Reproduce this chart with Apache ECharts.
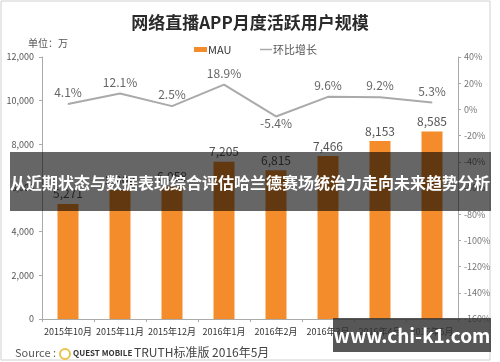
<!DOCTYPE html>
<html><head><meta charset="utf-8">
<script src="https://cdn.jsdelivr.net/npm/echarts@6/dist/echarts.min.js"></script>
<style>html,body{margin:0;padding:0;background:#fff}#c{width:500px;height:362px}</style>
</head><body><div id="c"></div>
<script>
const categories = ['2015年10月','2015年11月','2015年12月','2016年1月','2016年2月','2016年3月','2016年4月','2016年5月'];
const mau = [5271, 5909, 6058, 7205, 6815, 7466, 8153, 8585];
const growth = [4.1, 12.1, 2.5, 18.9, -5.4, 9.6, 9.2, 5.3];
const leftTicks = {min: 0, max: 12000, interval: 2000};
const rightTicks = {min: -160, max: 40, interval: 20};

const FONT = '"Noto Sans CJK SC", "Noto Sans", sans-serif';
const chart = echarts.init(document.getElementById('c'), null, {renderer: 'canvas'});
const fmtNum = v => String(v).replace(/\B(?=(\d{3})+(?!\d))/g, ',');

chart.setOption({
  animation: false,
  backgroundColor: '#fff',
  textStyle: {fontFamily: FONT},
  title: {
    text: '网络直播APP月度活跃用户规模', left: 'center', top: 9,
    textStyle: {fontSize: 17, fontWeight: 'bold', color: '#2a2a2a', fontFamily: FONT}
  },
  legend: [
    {data: ['MAU'], left: 189, top: 39, icon: 'rect', itemWidth: 13, itemHeight: 5, itemGap: 2,
     textStyle: {fontSize: 11, color: '#333', padding: [0, 0, 0, -4]}},
    {data: ['环比增长'], left: 255, top: 39, icon: 'rect', itemWidth: 12, itemHeight: 1.5,
     textStyle: {fontSize: 11, color: '#555', padding: [0, 0, 0, -4]}}
  ],
  grid: {left: 42, right: 42, top: 57, bottom: 43, containLabel: false},
  xAxis: {
    type: 'category', data: categories,
    axisLine: {lineStyle: {color: '#aaa'}},
    axisTick: {show: true, length: 3, lineStyle: {color: '#aaa'}},
    axisLabel: {fontSize: 9, color: '#333', margin: 8, interval: 0, hideOverlap: false}
  },
  yAxis: [
    {type: 'value', min: leftTicks.min, max: leftTicks.max, interval: leftTicks.interval,
     splitLine: {show: false},
     axisLine: {show: true, lineStyle: {color: '#aaa'}},
     axisTick: {show: true, length: 3, lineStyle: {color: '#aaa'}},
     axisLabel: {fontSize: 9, color: '#555', margin: 8, formatter: v => fmtNum(v)}},
    {type: 'value', min: rightTicks.min, max: rightTicks.max, interval: rightTicks.interval,
     splitLine: {show: false},
     axisLine: {show: true, lineStyle: {color: '#aaa'}},
     axisTick: {show: true, length: 3, lineStyle: {color: '#aaa'}},
     axisLabel: {fontSize: 9, color: '#777', margin: 6, formatter: v => v + '%'}}
  ],
  series: [
    {name: 'MAU', type: 'bar', data: mau, barWidth: 21, yAxisIndex: 0,
     itemStyle: {color: '#f48c2c'},
     label: {show: true, position: 'top', distance: 4, fontSize: 12, color: '#555',
             formatter: p => fmtNum(p.value)}},
    {name: '环比增长', type: 'line', yAxisIndex: 1, showSymbol: true, symbol: 'circle', symbolSize: 1,
     data: growth.map(v => v < 0 ? {value: v, label: {position: 'bottom', distance: 0}} : v),
     lineStyle: {color: '#aaa', width: 2}, itemStyle: {color: '#aaa'},
     label: {show: true, position: 'top', distance: 5, fontSize: 12, color: '#666',
             formatter: p => p.value + '%'}}
  ],
  graphic: [
    {type: 'rect', shape: {x: 1, y: 1, width: 489, height: 359}, style: {fill: 'none', stroke: '#d0d0d0', lineWidth: 1}, z: 0},
    {type: 'text', left: 28, top: 38, style: {text: '单位：万', fontSize: 10, fill: '#555', fontFamily: FONT}},
    {type: 'text', left: 15, top: 347, style: {text: 'Source :', fontSize: 11, fill: '#555', fontFamily: FONT}},
    {type: 'circle', shape: {cx: 65, cy: 354, r: 5}, style: {fill: 'none', stroke: '#e9c34a', lineWidth: 2}},
    {type: 'text', left: 73, top: 349, style: {text: 'QUEST MOBILE', fontSize: 8, fontWeight: 'bold', fill: '#333', fontFamily: FONT}},
    {type: 'text', left: 134, top: 346, style: {text: 'TRUTH标准版 2016年5月', fontSize: 12, fill: '#444', fontFamily: FONT}},
    {type: 'rect', shape: {x: 10, y: 152, width: 481, height: 59}, style: {fill: 'rgba(0,0,0,0.6)'}, z: 100},
    {type: 'text', x: 250, y: 183, z: 101, style: {text: '从近期状态与数据表现综合评估哈兰德赛场统治力走向未来趋势分析', fontSize: 16, fontWeight: 'bold', fill: '#fff', align: 'center', verticalAlign: 'middle', fontFamily: FONT}},
    {type: 'rect', shape: {x: 333, y: 318, width: 158, height: 34}, style: {fill: 'rgba(50,50,50,0.82)'}, z: 100},
    {type: 'text', x: 412, y: 336, z: 101, style: {text: 'www.chi-k1.com', fontSize: 19, fontWeight: 'bold', fill: '#fff', align: 'center', verticalAlign: 'middle', fontFamily: FONT}}
  ]
});
</script></body></html>
